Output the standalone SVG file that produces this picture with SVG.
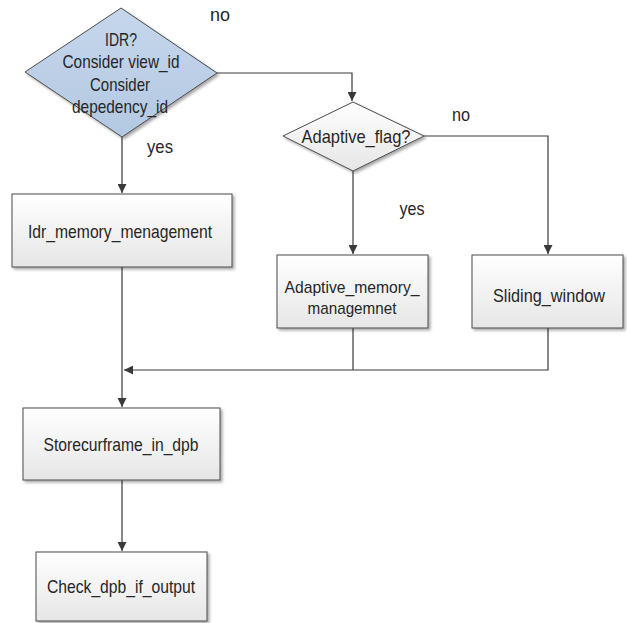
<svg xmlns="http://www.w3.org/2000/svg" width="627" height="623" viewBox="0 0 627 623">
  <defs>
    <linearGradient id="boxFill" x1="0" y1="0" x2="0" y2="1">
      <stop offset="0" stop-color="#ffffff"/>
      <stop offset="1" stop-color="#e6e6e6"/>
    </linearGradient>
    <linearGradient id="blueFill" x1="0" y1="0" x2="0" y2="1">
      <stop offset="0" stop-color="#c6d7ec"/>
      <stop offset="1" stop-color="#b3c8e2"/>
    </linearGradient>
    <filter id="shadow" x="-10%" y="-10%" width="130%" height="140%">
      <feGaussianBlur in="SourceAlpha" stdDeviation="1.5"/>
      <feOffset dx="2" dy="2" result="b"/>
      <feComponentTransfer><feFuncA type="linear" slope="0.35"/></feComponentTransfer>
      <feMerge><feMergeNode/><feMergeNode in="SourceGraphic"/></feMerge>
    </filter>
    <marker id="arrow" viewBox="0 0 10 10" refX="10" refY="5" markerWidth="9" markerHeight="9" markerUnits="userSpaceOnUse" orient="auto">
      <path d="M0,0 L10,5 L0,10 z" fill="#3a3a3a"/>
    </marker>
  </defs>
  <style>
    .shape { stroke: #4a4a4a; stroke-width: 1; }
    .box { fill: url(#boxFill); }
    .label { font-family: "Liberation Sans", Arial, sans-serif; font-size: 18.5px; fill: #262626; text-anchor: middle; }
    .small { font-size: 17px; }
    .conn { fill: none; stroke: #3a3a3a; stroke-width: 1.2; }
  </style>
  <rect width="627" height="623" fill="#ffffff"/>

  <g id="connectors">
    <path class="conn" d="M217,73 H352 V101" marker-end="url(#arrow)"/>
    <path class="conn" d="M122,137 V193" marker-end="url(#arrow)"/>
    <path class="conn" d="M353,171 V254" marker-end="url(#arrow)"/>
    <path class="conn" d="M424,136 H548 V254" marker-end="url(#arrow)"/>
    <path class="conn" d="M353,328 V370"/>
    <path class="conn" d="M548,328 V370 H124" marker-end="url(#arrow)"/>
    <path class="conn" d="M122,267 V407" marker-end="url(#arrow)"/>
    <path class="conn" d="M122,480 V551" marker-end="url(#arrow)"/>
    <text class="label" x="220" y="21" textLength="20" lengthAdjust="spacingAndGlyphs">no</text>
    <text class="label" x="160" y="153" textLength="26" lengthAdjust="spacingAndGlyphs">yes</text>
    <text class="label" x="461" y="121" textLength="18" lengthAdjust="spacingAndGlyphs">no</text>
    <text class="label" x="412" y="215" textLength="25" lengthAdjust="spacingAndGlyphs">yes</text>
  </g>

  <g id="idr-decision">
    <polygon class="shape" fill="url(#blueFill)" filter="url(#shadow)" points="121,8 217,73 122,137 25,72"/>
    <text class="label" x="121" y="46" textLength="32" lengthAdjust="spacingAndGlyphs">IDR?</text>
    <text class="label" x="121" y="68" textLength="117" lengthAdjust="spacingAndGlyphs">Consider view_id</text>
    <text class="label" x="120" y="91" textLength="60" lengthAdjust="spacingAndGlyphs">Consider</text>
    <text class="label" x="120" y="113" textLength="96" lengthAdjust="spacingAndGlyphs">depedency_id</text>
  </g>

  <g id="adaptive-decision">
    <polygon class="shape box" filter="url(#shadow)" points="353,102 424,136 353,171 283,136"/>
    <text class="label" x="356" y="143" textLength="109" lengthAdjust="spacingAndGlyphs">Adaptive_flag?</text>
  </g>

  <g id="idr-memory">
    <rect class="shape box" filter="url(#shadow)" x="12" y="194" width="220" height="73"/>
    <text class="label" x="120" y="238" textLength="184" lengthAdjust="spacingAndGlyphs">Idr_memory_menagement</text>
  </g>

  <g id="adaptive-memory">
    <rect class="shape box" filter="url(#shadow)" x="277" y="255" width="151" height="73"/>
    <text class="label small" x="352" y="293" textLength="135" lengthAdjust="spacingAndGlyphs">Adaptive_memory_</text>
    <text class="label small" x="352" y="314" textLength="89" lengthAdjust="spacingAndGlyphs">managemnet</text>
  </g>

  <g id="sliding-window">
    <rect class="shape box" filter="url(#shadow)" x="472" y="255" width="151" height="73"/>
    <text class="label" x="549" y="302" textLength="112" lengthAdjust="spacingAndGlyphs">Sliding_window</text>
  </g>

  <g id="store-frame">
    <rect class="shape box" filter="url(#shadow)" x="23" y="408" width="197" height="72"/>
    <text class="label" x="121" y="451" textLength="155" lengthAdjust="spacingAndGlyphs">Storecurframe_in_dpb</text>
  </g>

  <g id="check-output">
    <rect class="shape box" filter="url(#shadow)" x="36" y="552" width="171" height="69"/>
    <text class="label" x="121" y="593" textLength="148" lengthAdjust="spacingAndGlyphs">Check_dpb_if_output</text>
  </g>
</svg>
